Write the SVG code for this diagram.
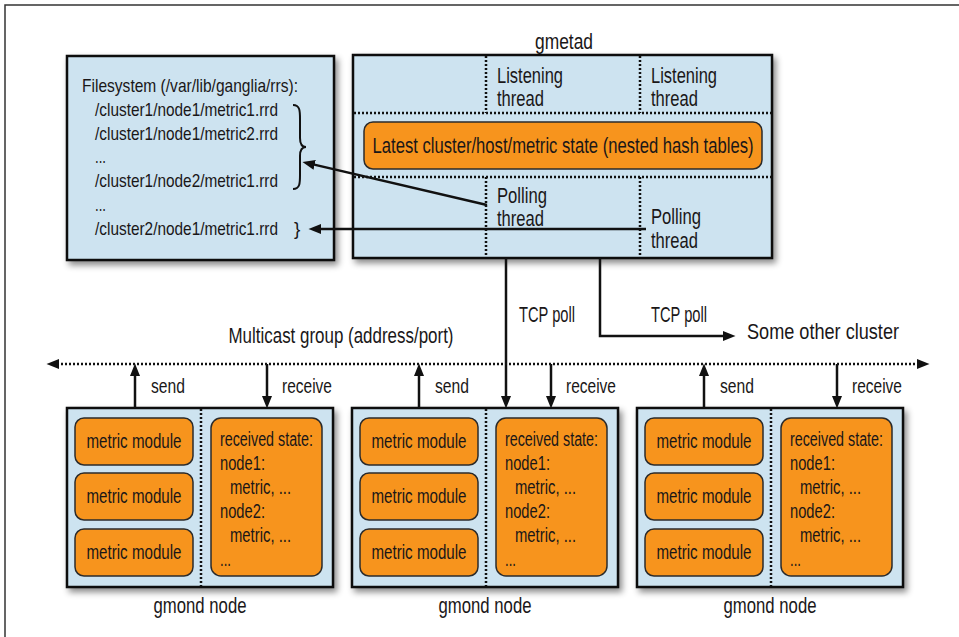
<svg xmlns="http://www.w3.org/2000/svg" width="959" height="637" viewBox="0 0 959 637">
<defs>
<filter id="sh" x="-10%" y="-10%" width="125%" height="130%">
<feDropShadow dx="3" dy="4" stdDeviation="3" flood-color="#000" flood-opacity="0.45"/>
</filter>
<marker id="ah" markerUnits="userSpaceOnUse" markerWidth="13" markerHeight="11" refX="6" refY="5" orient="auto-start-reverse" viewBox="0 0 13 10">
<path d="M0,0 L12.5,5 L0,10 z" fill="#111"/>
</marker>
</defs>
<style>
.box{fill:#cde3f0;stroke:#111;stroke-width:2.5;filter:url(#sh)}
.or{fill:#f7941d;stroke:#2b2b2b;stroke-width:1.5}
.dot{stroke:#111;stroke-width:2.5;stroke-dasharray:2 2;fill:none}
.ln{stroke:#111;stroke-width:2.5;fill:none}
.t{font-family:"Liberation Sans",Arial,sans-serif;fill:#1a1718}
.big{font-size:22px}
.fs{font-size:19px}
.sm{font-size:19.5px}
.mid{text-anchor:middle}
</style>
<path d="M5,637 V5 H959" fill="none" stroke="#333" stroke-width="1.5"/>

<g id="filesystem">
<rect class="box" x="67" y="56" width="267" height="204"/>
<text class="t fs" x="82" y="92" textLength="216" lengthAdjust="spacingAndGlyphs">Filesystem (/var/lib/ganglia/rrs):</text>
<text class="t fs" x="95" y="116" textLength="183" lengthAdjust="spacingAndGlyphs">/cluster1/node1/metric1.rrd</text>
<text class="t fs" x="95" y="140" textLength="183" lengthAdjust="spacingAndGlyphs">/cluster1/node1/metric2.rrd</text>
<text class="t fs" x="95" y="163" textLength="11" lengthAdjust="spacingAndGlyphs">...</text>
<text class="t fs" x="95" y="187" textLength="183" lengthAdjust="spacingAndGlyphs">/cluster1/node2/metric1.rrd</text>
<text class="t fs" x="95" y="211" textLength="11" lengthAdjust="spacingAndGlyphs">...</text>
<text class="t fs" x="95" y="235"><tspan textLength="183" lengthAdjust="spacingAndGlyphs">/cluster2/node1/metric1.rrd</tspan><tspan x="294">}</tspan></text>
<path d="M293,105 C300,105 300,111 300,119 L300,138 C300,144 302,147 306,147 C302,147 300,150 300,156 L300,175 C300,183 300,189 293,189" fill="none" stroke="#111" stroke-width="2"/>
</g>

<g id="gmetad">
<text class="t big mid" x="564" y="49" textLength="58" lengthAdjust="spacingAndGlyphs">gmetad</text>
<rect class="box" x="353" y="55" width="419" height="203"/>
<path class="dot" d="M486,56 V113 M640,56 V113 M354,113 H771 M354,177 H771 M486,177 V257 M640,177 V257"/>
<rect class="or" x="364" y="122" width="398" height="47" rx="9"/>
<text class="t big mid" x="563" y="153" textLength="381" lengthAdjust="spacingAndGlyphs">Latest cluster/host/metric state (nested hash tables)</text>
<text class="t big" x="497" y="83" textLength="66" lengthAdjust="spacingAndGlyphs">Listening</text>
<text class="t big" x="497" y="106" textLength="47" lengthAdjust="spacingAndGlyphs">thread</text>
<text class="t big" x="651" y="83" textLength="66" lengthAdjust="spacingAndGlyphs">Listening</text>
<text class="t big" x="651" y="106" textLength="47" lengthAdjust="spacingAndGlyphs">thread</text>
<text class="t big" x="497" y="203" textLength="50" lengthAdjust="spacingAndGlyphs">Polling</text>
<text class="t big" x="497" y="226" textLength="47" lengthAdjust="spacingAndGlyphs">thread</text>
<text class="t big" x="651" y="224" textLength="50" lengthAdjust="spacingAndGlyphs">Polling</text>
<text class="t big" x="651" y="248" textLength="47" lengthAdjust="spacingAndGlyphs">thread</text>
</g>

<g id="gmond1">
<rect class="box" x="67" y="408" width="266" height="179"/>
<path class="dot" d="M201,409 V586"/>
<rect class="or" x="75" y="418" width="118" height="47" rx="9"/>
<rect class="or" x="75" y="473" width="118" height="47" rx="9"/>
<rect class="or" x="75" y="529" width="118" height="47" rx="9"/>
<text class="t sm mid" x="134" y="448" textLength="95" lengthAdjust="spacingAndGlyphs">metric module</text>
<text class="t sm mid" x="134" y="503" textLength="95" lengthAdjust="spacingAndGlyphs">metric module</text>
<text class="t sm mid" x="134" y="559" textLength="95" lengthAdjust="spacingAndGlyphs">metric module</text>
<rect class="or" x="211" y="418" width="111" height="158" rx="10"/>
<text class="t sm" x="220" y="446" textLength="93" lengthAdjust="spacingAndGlyphs">received state:</text>
<text class="t sm" x="220" y="470" textLength="45" lengthAdjust="spacingAndGlyphs">node1:</text>
<text class="t sm" x="230" y="494" textLength="61" lengthAdjust="spacingAndGlyphs">metric, ...</text>
<text class="t sm" x="220" y="518" textLength="45" lengthAdjust="spacingAndGlyphs">node2:</text>
<text class="t sm" x="230" y="542" textLength="61" lengthAdjust="spacingAndGlyphs">metric, ...</text>
<text class="t sm" x="220" y="566" textLength="11" lengthAdjust="spacingAndGlyphs">...</text>
<text class="t big mid" x="200" y="613" textLength="93" lengthAdjust="spacingAndGlyphs">gmond node</text>
</g>

<g id="gmond2">
<rect class="box" x="352" y="408" width="266" height="179"/>
<path class="dot" d="M486,409 V586"/>
<rect class="or" x="360" y="418" width="118" height="47" rx="9"/>
<rect class="or" x="360" y="473" width="118" height="47" rx="9"/>
<rect class="or" x="360" y="529" width="118" height="47" rx="9"/>
<text class="t sm mid" x="419" y="448" textLength="95" lengthAdjust="spacingAndGlyphs">metric module</text>
<text class="t sm mid" x="419" y="503" textLength="95" lengthAdjust="spacingAndGlyphs">metric module</text>
<text class="t sm mid" x="419" y="559" textLength="95" lengthAdjust="spacingAndGlyphs">metric module</text>
<rect class="or" x="496" y="418" width="111" height="158" rx="10"/>
<text class="t sm" x="505" y="446" textLength="93" lengthAdjust="spacingAndGlyphs">received state:</text>
<text class="t sm" x="505" y="470" textLength="45" lengthAdjust="spacingAndGlyphs">node1:</text>
<text class="t sm" x="515" y="494" textLength="61" lengthAdjust="spacingAndGlyphs">metric, ...</text>
<text class="t sm" x="505" y="518" textLength="45" lengthAdjust="spacingAndGlyphs">node2:</text>
<text class="t sm" x="515" y="542" textLength="61" lengthAdjust="spacingAndGlyphs">metric, ...</text>
<text class="t sm" x="505" y="566" textLength="11" lengthAdjust="spacingAndGlyphs">...</text>
<text class="t big mid" x="485" y="613" textLength="93" lengthAdjust="spacingAndGlyphs">gmond node</text>
</g>

<g id="gmond3">
<rect class="box" x="637" y="408" width="266" height="179"/>
<path class="dot" d="M771,409 V586"/>
<rect class="or" x="645" y="418" width="118" height="47" rx="9"/>
<rect class="or" x="645" y="473" width="118" height="47" rx="9"/>
<rect class="or" x="645" y="529" width="118" height="47" rx="9"/>
<text class="t sm mid" x="704" y="448" textLength="95" lengthAdjust="spacingAndGlyphs">metric module</text>
<text class="t sm mid" x="704" y="503" textLength="95" lengthAdjust="spacingAndGlyphs">metric module</text>
<text class="t sm mid" x="704" y="559" textLength="95" lengthAdjust="spacingAndGlyphs">metric module</text>
<rect class="or" x="781" y="418" width="111" height="158" rx="10"/>
<text class="t sm" x="790" y="446" textLength="93" lengthAdjust="spacingAndGlyphs">received state:</text>
<text class="t sm" x="790" y="470" textLength="45" lengthAdjust="spacingAndGlyphs">node1:</text>
<text class="t sm" x="800" y="494" textLength="61" lengthAdjust="spacingAndGlyphs">metric, ...</text>
<text class="t sm" x="790" y="518" textLength="45" lengthAdjust="spacingAndGlyphs">node2:</text>
<text class="t sm" x="800" y="542" textLength="61" lengthAdjust="spacingAndGlyphs">metric, ...</text>
<text class="t sm" x="790" y="566" textLength="11" lengthAdjust="spacingAndGlyphs">...</text>
<text class="t big mid" x="770" y="613" textLength="93" lengthAdjust="spacingAndGlyphs">gmond node</text>
</g>

<g id="other-cluster">
<text class="t big" x="747" y="339" textLength="152" lengthAdjust="spacingAndGlyphs">Some other cluster</text>
</g>

<g id="connectors">
<line class="ln" x1="487" y1="205" x2="308.8" y2="163.4" marker-end="url(#ah)"/>
<line class="ln" x1="646" y1="229" x2="315" y2="229" marker-end="url(#ah)"/>
<path class="ln" d="M506,258 V402" marker-end="url(#ah)"/>
<path class="ln" d="M600,258 V336 H729" marker-end="url(#ah)"/>
<path class="dot" d="M53,364 H923" marker-start="url(#ah)" marker-end="url(#ah)"/>
<path class="ln" d="M135,408 V370" marker-end="url(#ah)"/>
<path class="ln" d="M267,364 V402" marker-end="url(#ah)"/>
<path class="ln" d="M419,408 V370" marker-end="url(#ah)"/>
<path class="ln" d="M551,364 V402" marker-end="url(#ah)"/>
<path class="ln" d="M704,408 V370" marker-end="url(#ah)"/>
<path class="ln" d="M837,364 V402" marker-end="url(#ah)"/>
<text class="t big mid" x="341" y="343" textLength="225" lengthAdjust="spacingAndGlyphs">Multicast group (address/port)</text>
<text class="t big" x="519" y="322" textLength="56" lengthAdjust="spacingAndGlyphs">TCP poll</text>
<text class="t big" x="651" y="322" textLength="56" lengthAdjust="spacingAndGlyphs">TCP poll</text>
<text class="t sm" x="151" y="393" textLength="34" lengthAdjust="spacingAndGlyphs">send</text>
<text class="t sm" x="282" y="393" textLength="50" lengthAdjust="spacingAndGlyphs">receive</text>
<text class="t sm" x="435" y="393" textLength="34" lengthAdjust="spacingAndGlyphs">send</text>
<text class="t sm" x="566" y="393" textLength="50" lengthAdjust="spacingAndGlyphs">receive</text>
<text class="t sm" x="720" y="393" textLength="34" lengthAdjust="spacingAndGlyphs">send</text>
<text class="t sm" x="852" y="393" textLength="50" lengthAdjust="spacingAndGlyphs">receive</text>
</g>
</svg>
